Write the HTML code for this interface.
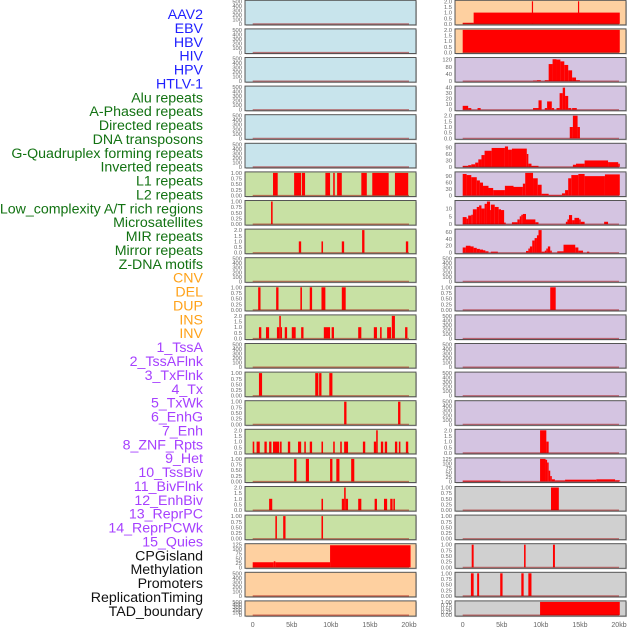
<!DOCTYPE html>
<html><head><meta charset="utf-8"><style>
body{margin:0;background:#fff;width:630px;height:630px;overflow:hidden}
svg text{font-family:"Liberation Sans",sans-serif}
</style></head><body>
<svg id="c" width="630" height="630" xmlns="http://www.w3.org/2000/svg"></svg>
<script>
const labelNames=["AAV2","EBV","HBV","HIV","HPV","HTLV-1","Alu repeats","A-Phased repeats","Directed repeats","DNA transposons","G-Quadruplex forming repeats","Inverted repeats","L1 repeats","L2 repeats","Low_complexity A/T rich regions","Microsatellites","MIR repeats","Mirror repeats","Z-DNA motifs","CNV","DEL","DUP","INS","INV","1_TssA","2_TssAFlnk","3_TxFlnk","4_Tx","5_TxWk","6_EnhG","7_Enh","8_ZNF_Rpts","9_Het","10_TssBiv","11_BivFlnk","12_EnhBiv","13_ReprPC","14_ReprPCWk","15_Quies","CPGisland","Methylation","Promoters","ReplicationTiming","TAD_boundary"];
const labelGroups=[6,13,5,15,5];
const groupColors=["#1f1fff","#127212","#ffa21a","#a640ff","#111111"];
const xTicks=[0,5,10,15,20];
const xTickLabels=["0","5kb","10kb","15kb","20kb"];
const T500=[0,100,200,300,400,500], T1=[0,0.25,0.5,0.75,1], T2=[0,0.5,1,1.5,2], T125=[0,25,50,75,100,125];
const segL6=[[2.6,3.2,1],[5.3,6.2,1],[6.3,6.7,1],[9.3,9.9,1],[10.3,10.5,1],[10.8,11.4,1],[13.9,14.6,1],[15.3,17.4,1],[18.2,19.9,1]];
const segL7=[[2.35,2.55,1]];
const segL8=[[5.9,6.2,1],[8.8,9.0,1],[11.4,11.7,1],[14.0,14.3,2],[19.6,19.9,1]];
const segL10=[[0.7,1.0,1],[3.0,3.3,1],[6.1,6.3,1],[7.3,7.6,1],[8.8,9.3,1],[11.4,11.9,1]];
const segL11=[[0.8,1.1,1],[1.7,2.1,1],[3.1,3.4,1],[3.4,3.6,2],[3.6,3.7,1],[4.1,4.4,1],[5.0,5.5,1],[6.2,6.5,1],[9.1,9.9,1],[10.1,10.4,1],[13.5,13.9,1],[15.5,15.9,1],[16.3,16.5,1],[17.2,17.7,1],[17.8,18.2,2],[19.5,19.8,1]];
const segL13=[[0.8,1.2,1],[8.0,8.4,1],[8.5,8.8,1],[9.8,10.2,1]];
const segL14=[[11.7,12.0,1],[18.6,18.9,1]];
const segL15=[[0,0.2,1],[0.5,0.9,1],[1.5,1.8,1],[2.1,2.4,1],[2.6,3.4,1],[3.5,3.7,1],[4.5,4.8,1],[5.8,6.2,1],[6.6,6.8,1],[7.3,7.6,1],[8.8,9.0,1],[10.3,10.5,1],[11.2,11.4,1],[11.7,12.2,1],[14.1,14.4,1],[15.5,15.8,1],[15.8,16.0,2],[16.4,16.7,1],[16.9,17.2,1],[18.2,18.5,1],[18.7,18.9,1],[19.6,19.9,1]];
const segL16=[[5.3,5.6,1],[6.8,7.2,1],[9.9,10.2,1],[10.7,11.1,1],[12.6,13.0,1]];
const segL17=[[2.1,2.5,1],[8.8,9.0,1],[11.4,11.7,1],[11.7,11.9,2],[11.9,12.2,1],[13.5,13.9,1],[15.6,15.9,1],[16.8,17.2,1],[17.6,17.9,1],[18.0,18.2,1]];
const segL18=[[2.9,3.1,1],[3.9,4.2,1],[8.8,9.0,1]];
const segL19=[[0,2.7,28],[2.7,2.9,33],[2.9,9.9,28],[9.9,20.2,122]];
const segR0=[[0,1.4,0.1],[1.4,20.1,1],[8.85,9.0,2],[14.75,14.9,2]];
const segR1=[[0,20.1,2]];
const segR2=[[9,9.5,3],[9.5,10,5],[10.5,11,5],[11,11.5,95],[11.5,12,122],[12,12.5,120],[12.5,13,110],[13,13.5,90],[13.5,14,60],[14,14.5,20],[14.5,15,5]];
const segR3=[[0,0.7,7],[0.7,1.1,3],[1.9,2.3,3],[9,9.7,3],[9.7,10.1,17],[10.5,10.8,3],[10.8,11.4,15],[11.4,11.7,3],[12,12.4,3],[12.4,12.8,30],[12.8,13.1,40],[13.1,13.5,25],[13.5,13.9,3],[14,14.6,3]];
const segR4=[[13.7,14.1,1],[14.1,14.7,2],[14.7,15.0,1]];
const segR5=[[0,0.7,5],[0.7,1.1,8],[1.1,1.6,12],[1.6,2.0,20],[2.0,2.4,35],[2.4,2.8,55],[2.8,3.7,75],[3.7,5.4,88],[5.4,5.8,95],[5.8,6.3,80],[6.3,8.2,85],[8.2,8.4,60],[8.4,8.8,15],[8.8,9.7,5],[14.1,14.5,10],[14.5,15.6,15],[15.6,18.6,30],[18.6,19.9,22],[19.9,20.1,15]];
const segR6=[[0,0.5,100],[0.5,1.1,95],[1.1,1.8,85],[1.8,2.2,70],[2.2,2.6,60],[2.6,3.3,45],[3.3,3.9,35],[3.9,5.4,25],[5.4,6.5,45],[6.5,7.7,40],[7.7,8.0,55],[8.0,9.0,105],[9.0,9.6,80],[9.6,10.1,50],[10.1,11.0,8],[11.0,12.7,3],[12.7,13.1,10],[13.1,13.5,25],[13.5,13.9,80],[13.9,14.8,95],[14.8,15.6,100],[15.6,18.2,90],[18.2,20.1,98]];
const segR7=[[0,0.5,4.5],[0.5,0.7,3.5],[0.7,1.1,5.5],[1.1,1.3,6],[1.3,1.8,9.5],[1.8,2.1,11],[2.1,2.4,12],[2.4,2.8,10],[2.8,3.1,13],[3.1,3.5,14.5],[3.5,3.6,9],[3.6,4.1,12.5],[4.1,4.6,11],[4.6,4.9,9.5],[4.9,5.3,9],[5.3,5.5,1],[6.3,7.0,1.2],[7.0,7.3,3],[7.3,7.5,5],[7.5,7.7,6],[7.7,8.1,6.5],[8.1,9.3,3],[9.3,9.7,1.2],[13.2,13.4,1.5],[13.4,13.6,3],[13.6,14.0,5.8],[14.0,14.3,2.5],[14.3,14.9,4],[14.9,15.1,3],[15.1,15.6,1.5],[18.1,18.6,1.5]];
const segR8=[[0,0.4,15],[0.4,1.0,20],[1.0,1.4,18],[1.4,1.8,14],[1.8,2.2,11],[2.2,2.6,9],[2.6,2.9,7],[2.9,3.3,4],[3.6,4.5,3],[8.1,8.4,5],[8.4,8.6,12],[8.6,8.9,18],[8.9,9.2,35],[9.2,9.5,42],[9.5,9.7,50],[9.7,10.1,65],[10.1,10.5,3],[10.5,10.7,6],[10.7,10.9,12],[10.9,11.2,18],[11.2,11.4,6],[12.1,12.9,4],[12.9,14.4,23],[14.4,14.8,15],[14.8,15.4,6],[15.9,16.2,3]];
const segR10=[[11.2,11.9,1]];
const segR15=[[9.9,10.7,2],[10.7,11.0,1]];
const segR16=[[0,4.8,5],[9.9,10.6,125],[10.6,10.8,120],[10.8,11.0,105],[11.0,11.2,60],[11.2,11.4,30],[11.4,11.8,12],[11.8,13.1,6],[13.1,17.1,10],[17.1,19.5,12],[19.5,20.1,7]];
const segR17=[[11.3,12.3,1]];
const segR19=[[1.15,1.4,1],[7.85,8.05,1],[11.55,11.8,1]];
const segR20=[[1.05,1.4,1],[1.85,2.1,1],[4.8,5.1,1],[7.5,7.8,1],[8.4,8.8,1]];
const segR21=[[9.9,20.1,1]];

const BLUE="#c8e4ec",GREEN="#c8e1a4",PEACH="#fed0a0",LAV="#d4c4e1",GRAY="#d0d0d0";
const left=[];
for(let i=0;i<22;i++){left.push({bg:i<6?BLUE:(i<19?GREEN:PEACH),ticks:T500,max:500,seg:[]});}
const setP=(arr,i,ticks,max,seg)=>{arr[i].ticks=ticks;arr[i].max=max;arr[i].seg=seg;};
setP(left,6,T1,1,segL6);setP(left,7,T1,1,segL7);setP(left,8,T2,2,segL8);setP(left,10,T1,1,segL10);
setP(left,11,T2,2,segL11);setP(left,13,T1,1,segL13);setP(left,14,T1,1,segL14);setP(left,15,T2,2,segL15);
setP(left,16,T1,1,segL16);setP(left,17,T2,2,segL17);setP(left,18,T1,1,segL18);setP(left,19,T125,125,segL19);
const right=[];
for(let i=0;i<22;i++){right.push({bg:i<2?PEACH:(i<17?LAV:GRAY),ticks:T500,max:500,seg:[]});}
setP(right,0,T2,2,segR0);setP(right,1,T2,2,segR1);setP(right,2,[0,40,80,120],126,segR2);
setP(right,3,[0,10,20,30,40],41,segR3);setP(right,4,T2,2,segR4);setP(right,5,[0,30,60,90],105,segR5);
setP(right,6,[0,30,60,90],105,segR6);setP(right,7,[0,5,10],14.5,segR7);setP(right,8,[0,20,40,60],65,segR8);
setP(right,10,T1,1,segR10);setP(right,15,T2,2,segR15);setP(right,16,T125,125,segR16);
setP(right,17,T1,1,segR17);setP(right,18,T1,1,[]);setP(right,19,T1,1,segR19);setP(right,20,T1,1,segR20);setP(right,21,T1,1,segR21);

const svg=document.getElementById('c');
const NS="http://www.w3.org/2000/svg";
function mk(tag,attrs,parent){const e=document.createElementNS(NS,tag);for(const k in attrs)e.setAttribute(k,attrs[k]);(parent||svg).appendChild(e);return e;}
let li=0;
labelGroups.forEach((n,g)=>{for(let k=0;k<n;k++){const t=mk('text',{x:203,y:14+13.88*li+5,'text-anchor':'end','font-size':'14.2',fill:groupColors[g]});


t.textContent=labelNames[li];li++;}});
const cols=[{x0:245,x1:416,z:252.7,data:left,name:'left'},{x0:455,x1:626,z:462.7,data:right,name:'right'}];
const KB=7.815;
function fmt(v,ticks){const dec=ticks===T1?2:(ticks===T2?1:0);return v.toFixed(dec);}
cols.forEach(col=>{
  const xs=kb=>col.z+kb*KB;
  col.data.forEach((p,i)=>{
    const top=0.3+28.6*i, h=(i===21?15.2:24.6), bot=top+h;
    const g=mk('g',{});
    
    
    mk('rect',{x:col.x0+1,y:top+1,width:col.x1-col.x0,height:h,fill:'#999',opacity:0.5},g);
    mk('rect',{x:col.x0,y:top,width:col.x1-col.x0,height:h,fill:p.bg,stroke:'#555','stroke-width':1},g);
    const ys=v=>(bot-1)-(v/p.max)*(h-2);
    p.seg.forEach(s=>{
      const x=xs(s[0]),w=Math.max(1.2,xs(s[1])-xs(s[0]));
      const r=mk('rect',{x:x,y:ys(s[2]),width:w,height:(bot-1)-ys(s[2]),fill:'#ff0000'},g);
      
      
    });
    mk('line',{x1:xs(0),x2:xs(20),y1:bot-1,y2:bot-1,stroke:'#a00000','stroke-width':1.2,opacity:0.5},g);
    p.ticks.forEach(t=>{
      const tx=mk('text',{x:col.x0-3,y:ys(t)+2,'text-anchor':'end','font-size':'5.8',fill:'#666'},g);
      
      
      tx.textContent=fmt(t,p.ticks);
    });
  });
  xTicks.forEach((t,k)=>{
    const tx=mk('text',{x:xs(t),y:627,'text-anchor':'middle','font-size':'7',fill:'#666'});
    
    
    tx.textContent=xTickLabels[k];
  });
});
</script>
</body></html>
